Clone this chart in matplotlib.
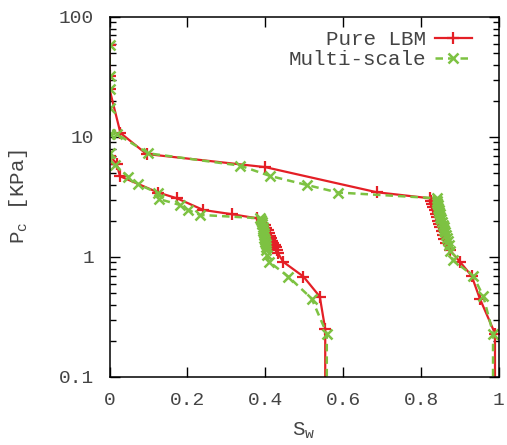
import matplotlib
matplotlib.use("Agg")
import matplotlib.pyplot as plt
from matplotlib.ticker import LogLocator, NullFormatter, FixedLocator

# Pure LBM, upper branch (drainage) and lower branch
lbm_up_sw = [0, 0, 0, 0.028, 0.095, 0.40, 0.686, 0.823, 0.826, 0.829, 0.832,
             0.835, 0.838, 0.841, 0.844, 0.847, 0.850, 0.853, 0.856, 0.860,
             0.865, 0.874, 0.900, 0.930, 0.951, 0.990, 0.990]
lbm_up_pc = [58, 32, 25, 10.8, 7.2, 5.6, 3.46, 3.08, 2.9, 2.75, 2.6,
             2.45, 2.3, 2.15, 2.0, 1.88, 1.76, 1.64, 1.52, 1.41,
             1.3, 1.14, 0.91, 0.695, 0.45, 0.23, 0.05]
lbm_lo_sw = [0, 0.018, 0.027, 0.125, 0.173, 0.241, 0.314, 0.378, 0.400,
             0.403, 0.406, 0.409, 0.412, 0.415, 0.418, 0.421, 0.424, 0.427,
             0.430, 0.433, 0.446, 0.498, 0.540, 0.554, 0.554]
lbm_lo_pc = [7.0, 6.0, 4.7, 3.44, 3.08, 2.46, 2.27, 2.10, 1.85,
             1.75, 1.66, 1.58, 1.5, 1.43, 1.37, 1.31, 1.25, 1.2,
             1.15, 1.07, 0.91, 0.686, 0.467, 0.25, 0.05]

# Multi-scale
ms_up_sw = [0, 0, 0, 0, 0, 0.02, 0.0996, 0.335, 0.412, 0.506, 0.587, 0.840,
            0.841, 0.842, 0.843, 0.844, 0.845, 0.846, 0.848, 0.850, 0.852,
            0.854, 0.856, 0.858, 0.860, 0.862, 0.864, 0.866, 0.869, 0.871,
            0.874, 0.882, 0.934, 0.960, 0.985, 0.985]
ms_up_pc = [58, 32, 25, 17.5, 10.5, 10.5, 7.3, 5.77, 4.73, 3.98, 3.44, 3.08,
            2.95, 2.82, 2.7, 2.58, 2.47, 2.36, 2.26, 2.16, 2.06,
            1.96, 1.86, 1.77, 1.68, 1.6, 1.52, 1.44, 1.36, 1.25,
            1.11, 0.94, 0.695, 0.47, 0.23, 0.05]
ms_lo_sw = [0, 0.014, 0.048, 0.074, 0.125, 0.128, 0.181, 0.202, 0.232, 0.386,
            0.390, 0.391, 0.392, 0.393, 0.394, 0.395, 0.396, 0.397, 0.398,
            0.399, 0.400, 0.401, 0.402, 0.403, 0.404, 0.410, 0.459, 0.519,
            0.558, 0.558]
ms_lo_pc = [7.4, 5.85, 4.67, 4.03, 3.39, 3.03, 2.71, 2.46, 2.24, 2.10,
            2.03, 1.95, 1.87, 1.79, 1.72, 1.65, 1.58, 1.51, 1.45,
            1.39, 1.33, 1.27, 1.21, 1.15, 1.04, 0.91, 0.686, 0.45,
            0.23, 0.05]

x_ticks = [0, 0.2, 0.4, 0.6, 0.8, 1]
x_tick_labels = ["0", "0.2", "0.4", "0.6", "0.8", "1"]
y_ticks = [0.1, 1, 10, 100]
y_tick_labels = ["0.1", "1", "10", "100"]

RED = "#e41f26"
GREEN = "#7dc242"
TEXT = "#444444"
FONT = "Liberation Mono"

fig = plt.figure(figsize=(5.07, 4.45), dpi=100)
ax = fig.add_axes([0.216, 0.153, 0.768, 0.809])

red_style = dict(color=RED, linestyle="-", linewidth=1.6, marker="+",
                 markersize=8, markeredgewidth=1.6)
green_style = dict(color=GREEN, linestyle=(0, (3, 2)), linewidth=1.8,
                   marker="x", markersize=7, markeredgewidth=1.8)

ax.plot(lbm_up_sw, lbm_up_pc, label="Pure LBM", **red_style)
ax.plot(lbm_lo_sw, lbm_lo_pc, **red_style)
ax.plot(ms_up_sw, ms_up_pc, label="Multi-scale", **green_style)
ax.plot(ms_lo_sw, ms_lo_pc, **green_style)

ax.set_yscale("log")
ax.set_xlim(0, 1)
ax.set_ylim(0.1, 100)

ax.xaxis.set_major_locator(FixedLocator(x_ticks))
ax.set_xticklabels(x_tick_labels)
ax.yaxis.set_major_locator(FixedLocator(y_ticks))
ax.set_yticklabels(y_tick_labels)
ax.yaxis.set_minor_locator(LogLocator(base=10, subs=range(2, 10)))
ax.yaxis.set_minor_formatter(NullFormatter())

ax.tick_params(which="both", direction="in", top=True, right=True,
               colors="black", labelcolor=TEXT, width=1)
ax.tick_params(which="major", length=7, labelsize=14, pad=11)
ax.tick_params(which="minor", length=4)
for lbl in ax.get_xticklabels() + ax.get_yticklabels():
    lbl.set_family(FONT)

for sp in ax.spines.values():
    sp.set_linewidth(1.1)

ax.set_xlabel(r"S$_\mathregular{w}$", family=FONT, fontsize=15, color=TEXT,
              labelpad=8)
ax.set_ylabel(r"P$_\mathregular{c}$ [KPa]", family=FONT, fontsize=15,
              color=TEXT, labelpad=21)

leg = ax.legend(loc="upper right", frameon=False, markerfirst=False,
                prop={"family": FONT, "size": 15}, handlelength=1.75,
                handletextpad=0.45, borderaxespad=0, borderpad=0,
                labelspacing=0.05, bbox_to_anchor=(0.93, 0.964))
for t in leg.get_texts():
    t.set_color(TEXT)

fig.savefig("out.png", dpi=100)
